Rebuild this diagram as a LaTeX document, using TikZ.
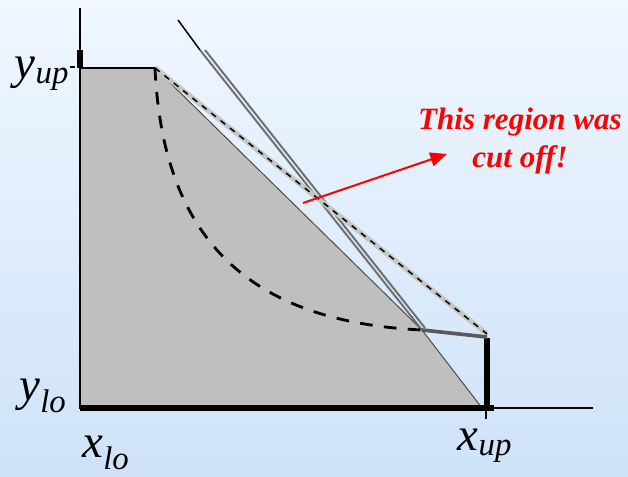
\documentclass[tikz,border=0pt]{standalone}
\usepackage{fontspec}
\setmainfont{Liberation Serif}
\usetikzlibrary{arrows.meta,calc}
\definecolor{bgtop}{RGB}{240,247,255}
\definecolor{bgbot}{RGB}{206,226,248}
\tikzset{
  axis/.style={line width=0.45mm,black},
  bound/.style={line width=1.6mm,black},
  relax/.style={fill=gray!50!white,draw=gray!60!black,line width=0.3mm},
  curve/.style={line width=0.85mm,dash pattern=on 3.8mm off 3.4mm},
  halo/.style={line width=1.5mm,gray!45},
  secant/.style={line width=0.45mm,dash pattern=on 1.8mm off 1.8mm},
  cut/.style={line width=0.6mm,gray!60!black!80},
  lbl/.style={font=\fontsize{40}{44}\selectfont\itshape},
  note/.style={font=\fontsize{26.5}{32}\selectfont\bfseries\itshape,text=red,align=center},
  pointer/.style={red,line width=0.6mm,-{Triangle[length=5mm,width=4.2mm]}},
}
\begin{document}
\begin{tikzpicture}[x=0.3mm,y=-0.3mm]
  % background
  \shade[top color=bgtop,bottom color=bgbot] (0,0) rectangle (628,477);
  \useasboundingbox (0,0) rectangle (628,477);
  % corners of the box and of the relaxation
  \coordinate (o) at (80,408);
  \coordinate (ytop) at (80,68);
  \coordinate (c0) at (155,68);
  \coordinate (c1) at (422,330);
  \coordinate (c2) at (482,408);
  \coordinate (xup) at (487,408);
  \coordinate (s1) at (487,334);
  % relaxed region
  \path[relax] (o) -- (ytop) -- (c0) -- (c1) -- (c2) -- cycle;
  % axes
  \draw[axis] (80,8) -- (o) -- (593,408);
  \draw[axis] (70,67) -- (75,67);
  \draw[axis] (486,411) -- (486,419);
  \draw[bound] (80,50) -- (ytop);
  \draw[axis] (ytop) -- (c0);
  \draw[bound] (o) -- (494,408);
  \draw[bound] (xup) -- (487,338);
  % linearizations
  \draw[axis] (178,20) -- (200,50);
  \draw[cut] (200,50) -- (c1);
  \draw[cut] (205,50) -- (425,328);
  % secant
  \draw[halo] (c0) -- (s1);
  \draw[secant] (c0) -- (s1);
  % true boundary
  \draw[curve] (c0) .. controls (163,245) and (255,322) .. (c1);
  \draw[line width=1.1mm,gray!70!black] (c1) -- (487,337);
  % labels
  \node[lbl] (yup) at (42,74) {y\textsubscript{up}};
  \node[lbl] (ylo) at (43,396) {y\textsubscript{lo}};
  \node[lbl] (xlo) at (106,453) {x\textsubscript{lo}};
  \node[lbl] (xupl) at (485,446) {x\textsubscript{up}};
  \node[note] (cutnote) at (520,141) {This region was\\cut off!};
  \coordinate (tail) at (303,203);
  \draw[pointer] (tail) -- (447,154);
\end{tikzpicture}
\end{document}
